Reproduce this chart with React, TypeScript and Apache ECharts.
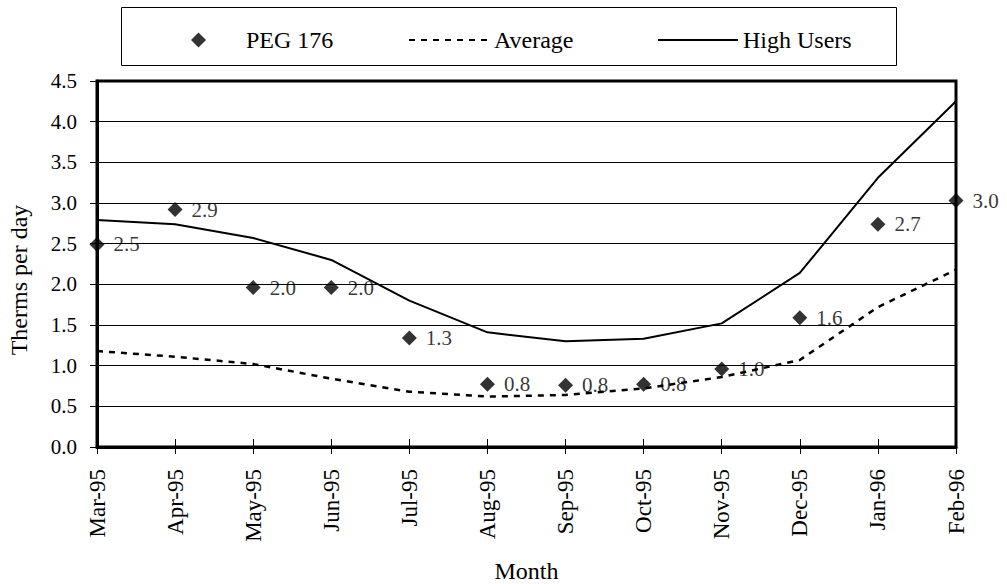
import React, { useEffect, useRef } from "react";
import * as echarts from "echarts";

// Monthly gas use, March 1995 to February 1996
const months = [
  "Mar-95", "Apr-95", "May-95", "Jun-95", "Jul-95", "Aug-95",
  "Sep-95", "Oct-95", "Nov-95", "Dec-95", "Jan-96", "Feb-96",
];
const peg176 = [2.49, 2.92, 1.96, 1.96, 1.34, 0.77, 0.76, 0.77, 0.96, 1.59, 2.74, 3.03];
const averageUse = [1.18, 1.11, 1.02, 0.84, 0.68, 0.62, 0.64, 0.72, 0.86, 1.07, 1.72, 2.18];
const highUsers = [2.79, 2.74, 2.57, 2.3, 1.8, 1.41, 1.3, 1.33, 1.52, 2.14, 3.31, 4.25];

const FONT = "Liberation Serif";

const legendText = { fontFamily: FONT, fontSize: 24, lineHeight: 24, color: "#000" };

export default function App() {
  const ref = useRef<HTMLDivElement>(null);

  useEffect(() => {
    if (!ref.current) return;
    const chart = echarts.init(ref.current, undefined, { renderer: "svg" });
    chart.setOption({
      animation: false,
      backgroundColor: "#fff",
      textStyle: { fontFamily: FONT, color: "#000" },
      grid: {
        left: 97,
        right: 51,
        top: 81,
        bottom: 137,
        outerBoundsMode: "none",
        show: true,
        borderColor: "#000",
        borderWidth: 3,
      },
      graphic: [
        {
          type: "rect",
          shape: { x: 121.5, y: 7.5, width: 775, height: 58 },
          style: { fill: "none", stroke: "#000", lineWidth: 1 },
          z: -1,
        },
      ],
      legend: [
        {
          data: ["PEG 176"],
          left: 191,
          top: 28,
          padding: 0,
          itemWidth: 15,
          itemHeight: 15,
          selectedMode: false,
          textStyle: { ...legendText, padding: [0, 0, 0, 35] },
        },
        {
          data: ["Average"],
          left: 408,
          top: 28,
          padding: 0,
          itemWidth: 80,
          itemHeight: 15,
          selectedMode: false,
          itemStyle: { color: "transparent", borderColor: "transparent", opacity: 0 },
          textStyle: legendText,
        },
        {
          data: ["High Users"],
          left: 657,
          top: 28,
          padding: 0,
          itemWidth: 80,
          itemHeight: 15,
          selectedMode: false,
          itemStyle: { color: "transparent", borderColor: "transparent", opacity: 0 },
          textStyle: legendText,
        },
      ],
      xAxis: [
        {
          type: "category",
          data: months,
          boundaryGap: false,
          axisLine: { lineStyle: { color: "#000", width: 3 } },
          axisTick: { length: 7, lineStyle: { color: "#000", width: 1 } },
          axisLabel: {
            rotate: 90,
            margin: 22,
            fontFamily: FONT,
            fontSize: 23,
            color: "#000",
          },
          name: "Month",
          nameLocation: "middle",
          nameGap: 112,
          nameTextStyle: { fontFamily: FONT, fontSize: 24, color: "#000" },
        },
        {
          // inward half of the category ticks
          type: "category",
          data: months,
          boundaryGap: false,
          position: "bottom",
          axisLine: { show: false },
          axisTick: { inside: true, length: 8, lineStyle: { color: "#000", width: 1 } },
          axisLabel: { show: false },
        },
      ],
      yAxis: {
        type: "value",
        min: 0,
        max: 4.5,
        interval: 0.5,
        axisLine: { show: true, lineStyle: { color: "#000", width: 3 } },
        axisTick: { show: true, length: 7, lineStyle: { color: "#000", width: 1 } },
        axisLabel: {
          formatter: (v: number) => v.toFixed(1),
          margin: 20,
          fontFamily: FONT,
          fontSize: 21,
          color: "#000",
        },
        splitLine: { lineStyle: { color: "#000", width: 1 } },
        name: "Therms per day",
        nameLocation: "middle",
        nameRotate: 90,
        nameGap: 66,
        nameTextStyle: {
          fontFamily: FONT,
          fontSize: 24,
          color: "#000",
          padding: [0, 32, 0, 0],
        },
      },
      series: [
        {
          name: "High Users",
          type: "line",
          data: highUsers,
          symbol: "none",
          lineStyle: { color: "#000", width: 2 },
          itemStyle: { color: "#000" },
          z: 3,
        },
        {
          name: "Average",
          type: "line",
          data: averageUse,
          symbol: "none",
          lineStyle: { color: "#000", width: 2.5, type: [6, 6] },
          itemStyle: { color: "#000" },
          z: 3,
        },
        {
          name: "PEG 176",
          type: "scatter",
          data: peg176,
          symbol: "diamond",
          symbolSize: 15,
          itemStyle: { color: "#000" },
          clip: false,
          label: {
            show: true,
            position: "right",
            distance: 9,
            formatter: (p: any) => Number(p.value).toFixed(1),
            fontFamily: FONT,
            fontSize: 21,
            color: "#000",
          },
          z: 5,
        },
      ],
    });
    return () => chart.dispose();
  }, []);

  return (
    <div
      ref={ref}
      style={{ position: "absolute", left: 0, top: 0, width: 1007, height: 584 }}
    />
  );
}
